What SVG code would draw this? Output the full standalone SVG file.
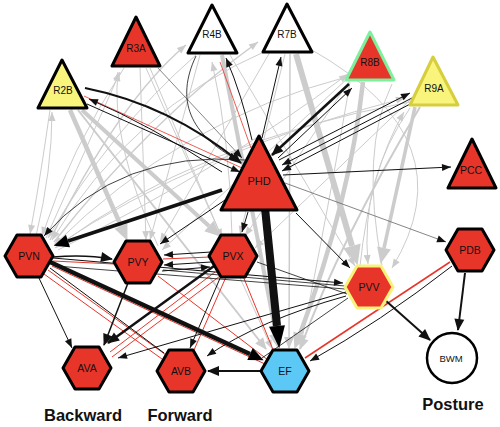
<svg xmlns="http://www.w3.org/2000/svg" width="500" height="427" viewBox="0 0 500 427">
<style>
.g{fill:none;stroke:#cccccc;stroke-width:1}
.k{fill:none;stroke:#111;stroke-width:1}
.r{fill:none;stroke:#e8352a;stroke-width:1}
.d{fill:none;stroke:#666;stroke-width:0.8}
.n{stroke:#000;stroke-width:3;stroke-linejoin:round}
.red{fill:#e8352a}
.l{font-family:"Liberation Sans",Arial,sans-serif;font-size:10.5px;text-anchor:middle;fill:#111}
.t{font-family:"Liberation Sans",Arial,sans-serif;font-size:16.5px;font-weight:bold;text-anchor:middle;fill:#111}
</style>
<defs>
<marker id="ak" markerUnits="userSpaceOnUse" markerWidth="10" markerHeight="8" refX="9" refY="3.5" orient="auto" overflow="visible"><path d="M0,0L9,3.5L0,7z" fill="#111"/></marker>
<marker id="akm" markerUnits="userSpaceOnUse" markerWidth="13" markerHeight="10" refX="11" refY="5" orient="auto" overflow="visible"><path d="M0,0L12,5L0,10z" fill="#111"/></marker>
<marker id="akL" markerUnits="userSpaceOnUse" markerWidth="16" markerHeight="13" refX="0" refY="6.5" orient="auto" overflow="visible"><path d="M0,0L15,6.5L0,13z" fill="#000"/></marker>
<marker id="akX" markerUnits="userSpaceOnUse" markerWidth="23" markerHeight="16" refX="0" refY="8" orient="auto" overflow="visible"><path d="M0,0L22,8L0,16z" fill="#000"/></marker>
<marker id="ag" markerUnits="userSpaceOnUse" markerWidth="10" markerHeight="8" refX="9" refY="3.5" orient="auto" overflow="visible"><path d="M0,0L9,3.5L0,7z" fill="#cccccc"/></marker>
<marker id="agm" markerUnits="userSpaceOnUse" markerWidth="13" markerHeight="10" refX="11" refY="5" orient="auto" overflow="visible"><path d="M0,0L12,5L0,10z" fill="#cccccc"/></marker>
<marker id="agL" markerUnits="userSpaceOnUse" markerWidth="17" markerHeight="14" refX="0" refY="7" orient="auto" overflow="visible"><path d="M0,0L16,7L0,14z" fill="#cccccc"/></marker>
<marker id="agX" markerUnits="userSpaceOnUse" markerWidth="21" markerHeight="18" refX="0" refY="9" orient="auto" overflow="visible"><path d="M0,0L20,9L0,18z" fill="#cccccc"/></marker>
</defs>
<g id="connectors">
<path class="g" d="M50,110 Q40,180 30,234" marker-end="url(#ag)"/>
<path class="g" d="M36,236 Q52,170 52,112" marker-end="url(#ag)"/>
<path class="g" d="M124,68 Q70,150 42,236" marker-end="url(#ag)"/>
<path class="g" d="M46,238 Q90,140 120,72" marker-end="url(#ag)"/>
<path class="g" d="M196,55 Q110,130 48,238" marker-end="url(#ag)"/>
<path class="g" style="stroke-width:1.5" d="M50,240 Q120,100 186,45" marker-end="url(#ag)"/>
<path class="g" d="M268,50 Q130,110 52,240" marker-end="url(#ag)"/>
<path class="g" style="stroke-width:1.5" d="M54,242 Q150,120 258,42" marker-end="url(#ag)"/>
<path class="g" d="M350,76 Q180,120 54,245" marker-end="url(#ag)"/>
<path class="g" d="M410,102 Q200,140 55,248" marker-end="url(#ag)"/>
<path class="g" d="M56,246 Q200,150 405,98" marker-end="url(#ag)"/>
<path class="g" d="M58,250 Q220,170 348,74" marker-end="url(#ag)"/>
<path class="g" d="M140,68 L146,240" marker-end="url(#ag)"/>
<path class="g" d="M150,68 L222,238" marker-end="url(#ag)"/>
<path class="g" d="M200,55 L150,240" marker-end="url(#ag)"/>
<path class="g" d="M230,55 L355,266" marker-end="url(#ag)"/>
<path class="g" d="M285,54 L240,235" marker-end="url(#ag)"/>
<path class="g" d="M270,52 L160,242" marker-end="url(#ag)"/>
<path class="g" d="M350,80 L245,236" marker-end="url(#ag)"/>
<path class="g" d="M348,78 L162,250" marker-end="url(#ag)"/>
<path class="g" d="M410,100 L255,248" marker-end="url(#ag)"/>
<path class="g" d="M146,68 L272,349" marker-end="url(#ag)"/>
<path class="g" d="M312,50 Q470,140 392,268" marker-end="url(#ag)"/>
<path class="g" d="M360,266 Q370,170 404,112" marker-end="url(#ag)"/>
<path class="g" d="M410,108 Q360,180 368,264" marker-end="url(#ag)"/>
<path class="g" d="M158,246 Q110,140 118,72" marker-end="url(#ag)"/>
<path class="g" d="M232,236 Q230,140 212,62" marker-end="url(#ag)"/>
<path class="g" d="M382,265 Q360,150 392,84"/>
<path class="g" d="M300,349 Q330,200 350,82"/>
<path class="g" style="stroke-width:2" d="M78,110 L266,349" marker-end="url(#agm)"/>
<path class="g" style="stroke-width:2" d="M420,107 Q340,240 300,349" marker-end="url(#agm)"/>
<path class="g" style="stroke-width:1.5" d="M290,54 L289,348" marker-end="url(#agm)"/>
<path class="g" style="stroke-width:4.5" d="M70,110 L121,226" marker-end="url(#agL)"/>
<path class="g" style="stroke-width:4" d="M82,110 L209,226" marker-end="url(#agL)"/>
<path class="g" style="stroke-width:4" d="M222,55 L276,334" marker-end="url(#agL)"/>
<path class="g" style="stroke-width:6" d="M296,54 L352,246" marker-end="url(#agX)"/>
<path class="g" style="stroke-width:3.5" d="M415,107 L384,248" marker-end="url(#agL)"/>
<path class="g" style="stroke-width:4.5" d="M363,82 Q350,200 300,334" marker-end="url(#agL)"/>
<path class="r" style="stroke-width:0.8" d="M84,96 L242,168"/>
<path class="r" style="stroke-width:0.8" d="M220,62 L251,148"/>
<path class="r" d="M53,261 L114,264"/>
<path class="r" d="M52,266 L265,364"/>
<path class="r" d="M48,270 L166,355"/>
<path class="r" d="M44,274 L162,359"/>
<path class="r" d="M158,276 L268,360"/>
<path class="r" d="M163,259 L210,257"/>
<path class="r" d="M215,272 L110,352"/>
<path class="r" d="M220,276 L112,357"/>
<path class="r" d="M226,277 L194,350"/>
<path class="r" d="M243,276 L274,352"/>
<path class="r" style="stroke-width:1.5" d="M450,262 L305,358"/>
<path class="k" style="stroke-width:2.2" d="M85,88 Q170,105 241,163" marker-end="url(#akm)"/>
<path class="k" d="M222,172 Q150,125 89,99" marker-end="url(#ak)"/>
<path class="k" d="M87,104 L240,172" marker-end="url(#ak)"/>
<path class="k" d="M252,140 Q242,95 226,58" marker-end="url(#ak)"/>
<path class="k" d="M262,138 L281,57" marker-end="url(#ak)"/>
<path class="k" style="stroke-width:2.5" d="M349,84 L272,155" marker-end="url(#akm)"/>
<path class="k" d="M278,158 L352,88" marker-end="url(#ak)"/>
<path class="k" d="M279,160 L410,93" marker-end="url(#ak)"/>
<path class="k" d="M412,98 L282,165" marker-end="url(#ak)"/>
<path class="k" d="M414,102 L282,171" marker-end="url(#ak)"/>
<path class="k" d="M283,175 L451,167" marker-end="url(#ak)"/>
<path class="d" d="M285,183 L446,242" marker-end="url(#ak)"/>
<path class="k" d="M296,213 L350,268" marker-end="url(#ak)"/>
<path class="k" d="M248,212 L242,232" marker-end="url(#ak)"/>
<path class="k" d="M228,198 L160,244" marker-end="url(#ak)"/>
<path class="d" d="M158,68 L242,158" marker-end="url(#ak)"/>
<path class="k" style="stroke-width:0.8" d="M245,160 Q120,150 44,236" marker-end="url(#ak)"/>
<path class="k" style="stroke-width:0.8" d="M196,56 C175,100 190,135 238,160" marker-end="url(#ak)"/>
<path class="k" style="stroke-width:1.5" d="M53,257 Q85,254 112,259" marker-end="url(#akm)"/>
<path class="k" d="M38,276 L72,348" marker-end="url(#ak)"/>
<path class="k" style="stroke-width:1.5" d="M128,283 L104,345" marker-end="url(#akm)"/>
<path class="k" style="stroke-width:2.5" d="M214,266 L108,343" marker-end="url(#akm)"/>
<path class="k" d="M221,276 L190,348" marker-end="url(#ak)"/>
<path class="k" d="M211,252 L164,255" marker-end="url(#ak)"/>
<path class="k" d="M211,262 L164,265" marker-end="url(#ak)"/>
<path class="k" d="M162,271 L210,267" marker-end="url(#ak)"/>
<path class="k" d="M50,268 L164,353"/>
<path class="k" d="M53,258 L343,283" marker-end="url(#ak)"/>
<path class="k" style="stroke-width:0.8" d="M345,286 L163,270"/>
<path class="k" style="stroke-width:0.8" d="M345,289 L56,266"/>
<path class="k" d="M346,292 L118,358" marker-end="url(#ak)"/>
<path class="k" d="M346,296 Q260,320 207,356" marker-end="url(#ak)"/>
<path class="k" style="stroke-width:0.8" d="M347,294 L257,262"/>
<path class="k" style="stroke-width:0.8" d="M348,298 L262,358"/>
<path class="k" style="stroke-width:4.5" d="M50,262 L250,354" marker-end="url(#akL)"/>
<path class="k" style="stroke-width:3.5" d="M222,190 L68,241" marker-end="url(#akL)"/>
<path class="k" style="stroke-width:8" d="M265,208 L277,326" marker-end="url(#akX)"/>
<path class="k" style="stroke-width:2" d="M262,371 L208,371" marker-end="url(#akm)"/>
<path class="k" d="M452,266 Q380,322 310,361" marker-end="url(#ak)"/>
<path class="k" style="stroke-width:2" d="M465,273 L458,330" marker-end="url(#akm)"/>
<path class="k" style="stroke-width:2" d="M385,300 L430,340" marker-end="url(#akm)"/>
</g>
<g id="R2B"><polygon class="n" fill="#f8f47c" points="62,60 87,108 38,108"/><text class="l" x="63" y="94" style="font-size:10px">R2B</text></g>
<g id="R3A"><polygon class="n red" points="136,17 160,66 112,66"/><text class="l" x="136" y="52" style="font-size:10px">R3A</text></g>
<g id="R4B"><polygon class="n" fill="#fff" points="212,5 237,53 188,53"/><text class="l" x="212" y="38" style="font-size:10px">R4B</text></g>
<g id="R7B"><polygon class="n" fill="#fff" points="287,4 312,52 263,52"/><text class="l" x="287" y="38" style="font-size:10px">R7B</text></g>
<g id="R8B"><polygon class="n red" style="stroke:#7cf09c" points="370,32 394,80 346,80"/><text class="l" x="370" y="66" style="font-size:10px">R8B</text></g>
<g id="R9A"><polygon class="n" fill="#f8f47c" style="stroke:#d6ce3c" points="433,57 458,105 410,105"/><text class="l" x="434" y="92" style="font-size:10px">R9A</text></g>
<g id="PCC"><polygon class="n red" points="472,139 496,188 448,188"/><text class="l" x="471" y="174">PCC</text></g>
<g id="PHD"><polygon class="n red" points="259,136 297,210 221,210"/><text class="l" x="259" y="185" style="font-size:11px">PHD</text></g>
<g id="PVN"><polygon class="n red" points="5,256 17,235 41,235 53,256 41,277 17,277"/><text class="l" x="29" y="260">PVN</text></g>
<g id="PVY"><polygon class="n red" points="114,262 126,241 150,241 162,262 150,283 126,283"/><text class="l" x="138" y="266">PVY</text></g>
<g id="PVX"><polygon class="n red" points="209,256 221,235 245,235 257,256 245,277 221,277"/><text class="l" x="233" y="260">PVX</text></g>
<g id="AVA"><polygon class="n red" points="63,368 75,347 99,347 111,368 99,389 75,389"/><text class="l" x="87" y="372">AVA</text></g>
<g id="AVB"><polygon class="n red" points="157,371 169,350 193,350 205,371 193,392 169,392"/><text class="l" x="181" y="375">AVB</text></g>
<g id="EF"><polygon class="n" fill="#5bc8f5" points="261,371 273,350 297,350 309,371 297,392 273,392"/><text class="l" x="285" y="375">EF</text></g>
<g id="PVV"><polygon class="n red" style="stroke:#f8f27a" points="345,287 357,266 381,266 393,287 381,308 357,308"/><text class="l" x="369" y="291">PVV</text></g>
<g id="PDB"><polygon class="n red" points="446,250 458,229 482,229 494,250 482,271 458,271"/><text class="l" x="470" y="254">PDB</text></g>
<g id="BWM"><circle cx="452" cy="358" r="25" fill="#fff" stroke="#000" stroke-width="2.5"/><text class="l" x="451" y="362" style="font-size:9.5px">BWM</text></g>
<g id="labels">
<text class="t" x="83" y="421">Backward</text>
<text class="t" x="180" y="421">Forward</text>
<text class="t" x="453" y="410">Posture</text>
</g>
</svg>
